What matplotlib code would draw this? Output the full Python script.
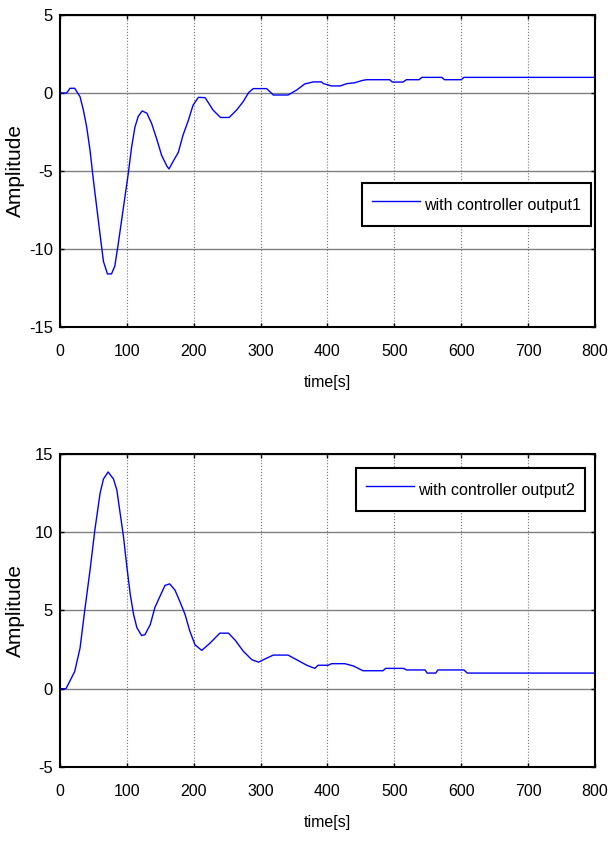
import matplotlib
matplotlib.use("Agg")
import matplotlib.pyplot as plt

plt.rcParams['font.family'] = ['Liberation Sans', 'DejaVu Sans']
plt.rcParams['axes.unicode_minus'] = False

# output1 : réponse avec régulateur
t1 = [0, 10, 15, 22, 30, 35, 40, 45, 50, 55, 60, 65, 71, 77, 82, 87, 92, 97, 102,
      107, 112, 117, 123, 130, 137, 145, 152, 160, 163, 169, 177, 184, 192, 199,
      207, 217, 229, 240, 253, 264, 274, 282, 289, 309, 319, 341, 354, 366, 379,
      391, 394, 406, 419, 429, 440, 452, 458, 493, 497, 513, 518, 537, 541, 571,
      575, 600, 604, 800]
y1 = [0, 0, 0.3, 0.3, -0.24, -1.1, -2.2, -3.7, -5.6, -7.35, -9.1, -10.8, -11.6,
      -11.6, -11.1, -9.7, -8.2, -6.7, -5.2, -3.5, -2.2, -1.5, -1.15, -1.3, -1.95,
      -3.0, -4.0, -4.7, -4.87, -4.4, -3.8, -2.7, -1.75, -0.78, -0.28, -0.3, -1.1,
      -1.57, -1.57, -1.1, -0.55, 0.02, 0.28, 0.28, -0.13, -0.13, 0.19, 0.58, 0.71,
      0.71, 0.6, 0.45, 0.45, 0.6, 0.65, 0.8, 0.85, 0.85, 0.7, 0.7, 0.85, 0.85, 1.0,
      1.0, 0.85, 0.85, 1.0, 1.0]

# output2
t2 = [0, 9, 22, 30, 37, 45, 52, 60, 65, 72, 80, 85, 90, 95, 100, 105, 110, 115,
      122, 127, 135, 142, 150, 157, 164, 172, 179, 187, 194, 202, 212, 224, 239,
      252, 262, 274, 287, 297, 304, 319, 341, 354, 369, 381, 386, 401, 406, 426,
      439, 453, 483, 487, 514, 518, 546, 549, 562, 565, 604, 609, 800]
y2 = [0, 0, 1.1, 2.6, 5.0, 7.6, 10.1, 12.5, 13.4, 13.85, 13.4, 12.7, 11.2, 9.7, 7.8,
      6.05, 4.75, 3.9, 3.4, 3.45, 4.1, 5.2, 5.95, 6.6, 6.7, 6.3, 5.6, 4.75, 3.7,
      2.8, 2.45, 2.9, 3.55, 3.55, 3.1, 2.4, 1.85, 1.7, 1.85, 2.15, 2.15, 1.85, 1.5,
      1.3, 1.5, 1.5, 1.6, 1.6, 1.45, 1.15, 1.15, 1.3, 1.3, 1.2, 1.2, 1.0, 1.0, 1.2,
      1.2, 1.0, 1.0]

xticks = list(range(0, 801, 100))
yticks1 = [-15, -10, -5, 0, 5]
yticks2 = [-5, 0, 5, 10, 15]

fig = plt.figure(figsize=(6.09, 8.46), dpi=100)
ax1 = fig.add_axes([0.0985, 0.6135, 0.8785, 0.3688])
ax2 = fig.add_axes([0.0985, 0.0934, 0.8785, 0.370])

panels = [
    (ax1, t1, y1, yticks1, "with controller output1", (0.9925, 0.4615)),
    (ax2, t2, y2, yticks2, "with controller output2", (0.981, 0.955)),
]

for ax, t, y, yt, lab, anchor in panels:
    ax.plot(t, y, color="blue", lw=1.0, label=lab)
    ax.set_xlim(0, 800)
    ax.set_ylim(yt[0], yt[-1])
    ax.set_xticks(xticks)
    ax.set_yticks(yt)
    ax.xaxis.grid(True, linestyle=":", color="0.45", lw=0.8)
    ax.yaxis.grid(True, linestyle="-", color="0.5", lw=1.0)
    ax.tick_params(direction="in", top=True, right=True, length=3, width=1,
                   labelsize=11.5)
    ax.tick_params(axis="x", pad=12)
    ax.tick_params(axis="y", pad=5, labelsize=12)
    for s in ax.spines.values():
        s.set_linewidth(1.5)
    ax.set_xlabel("time[s]", fontsize=11.5, labelpad=12)
    ax.set_ylabel("Amplitude", fontsize=15, va="center")
    ax.yaxis.set_label_coords(-0.084, 0.5)
    leg = ax.legend(loc="upper right", bbox_to_anchor=anchor, borderaxespad=0,
                    fancybox=False, fontsize=11.5, handlelength=3.0,
                    handleheight=1.9, handletextpad=0.3, borderpad=0.6,
                    framealpha=1)
    leg.get_frame().set_edgecolor("black")
    leg.get_frame().set_linewidth(1.5)

fig.savefig("out.png", dpi=100)
